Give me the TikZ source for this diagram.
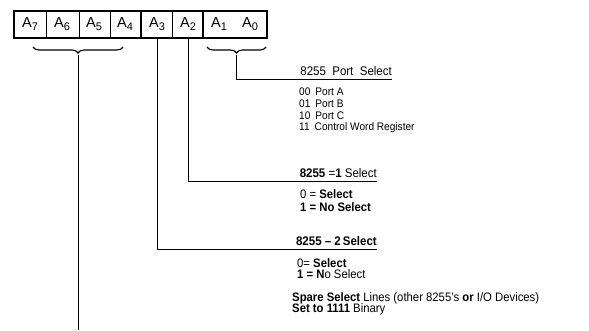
\documentclass[tikz,border=0pt]{standalone}
\usepackage{fontspec}
\setmainfont{Liberation Sans}
\newfontfamily\nar[FakeStretch=0.92,Ligatures=TeX]{Liberation Sans}
\usetikzlibrary{decorations.pathreplacing}
\newcommand{\regsub}[1]{\raisebox{-2.5pt}{\fontsize{11}{11}\selectfont #1}}
\begin{document}
\begin{tikzpicture}[x=1pt,y=-1pt,
  cell/.style={inner sep=0pt,font=\fontsize{14.5}{14}\selectfont},
  lbl/.style={inner sep=0pt,anchor=west,font=\nar\fontsize{12.3}{12}\selectfont},
  plbl/.style={inner sep=0pt,anchor=west,font=\nar\fontsize{11}{11}\selectfont},
  hdr/.style={inner xsep=0pt,inner ysep=3pt,anchor=south east,font=\nar\fontsize{12.5}{12}\selectfont},
  wire/.style={line width=0.9pt},
  brc/.style={decorate,decoration={brace,mirror,amplitude=6pt},line width=1.1pt}]
\useasboundingbox (0,0) rectangle (589,331);
% register
\draw[line width=2.6pt] (14,11) rectangle (267,38);
\foreach \x in {46,79,110,172} \draw[line width=0.8pt] (\x,11) -- (\x,38);
\foreach \x in {141,203} \draw[line width=1.8pt] (\x,11) -- (\x,38);
\node[cell] (a7) at (30,24) {A\regsub{7}};
\node[cell] (a6) at (62,24) {A\regsub{6}};
\node[cell] (a5) at (94,24) {A\regsub{5}};
\node[cell] (a4) at (125,24) {A\regsub{4}};
\node[cell] (a3) at (157,24) {A\regsub{3}};
\node[cell] (a2) at (188,24) {A\regsub{2}};
\node[cell] (a1) at (219,24) {A\regsub{1}};
\node[cell] (a0) at (250,24) {A\regsub{0}};
% braces
\draw[brc] (33,47) -- (123,47);
\draw[brc] (207,47) -- (266,47);
\coordinate (t1) at (78,55);
\coordinate (t2) at (236.5,55);
\coordinate (bot) at (78,330);
\coordinate (s3) at (157,38);
\coordinate (s2) at (188,38);
% headers
\node[hdr] (h1) at (392,79) {8255\ \ Port\ \ Select};
\node[hdr] (h2) at (377,181) {\textbf{8255} =\textbf{1} Select};
\node[hdr] (h3) at (377,249) {\textbf{8255 \textendash\ 2\,Select}};
% connectors
\draw[wire] (t1) -- (bot);
\draw[wire] (t2) |- (h1.south east);
\draw[wire] (s2) |- (h2.south east);
\draw[wire] (s3) |- (h3.south east);
% port list
\node[plbl] (p0) at (299,92) {00\hspace{5pt}Port A};
\node[plbl] (p1) at (299,104) {01\hspace{5pt}Port B};
\node[plbl] (p2) at (299,116) {10\hspace{5pt}Port C};
\node[plbl] (p3) at (299,128) {11\hspace{5pt}Control Word Register};
% select 1
\node[lbl] (s1a) at (300,194) {0 = \textbf{Select}};
\node[lbl] (s1b) at (300,207) {\textbf{1 = No Select}};
% select 2
\node[lbl] (s2a) at (297,263) {0= \textbf{Select}};
\node[lbl] (s2b) at (297,274) {\textbf{1 = N}o Select};
% spare
\node[lbl] (sp1) at (292,298) {\textbf{Spare Select} Lines (other 8255's \textbf{or} I/O Devices)};
\node[lbl] (sp2) at (292,309) {\textbf{Set to 1111} Binary};
\end{tikzpicture}
\end{document}
